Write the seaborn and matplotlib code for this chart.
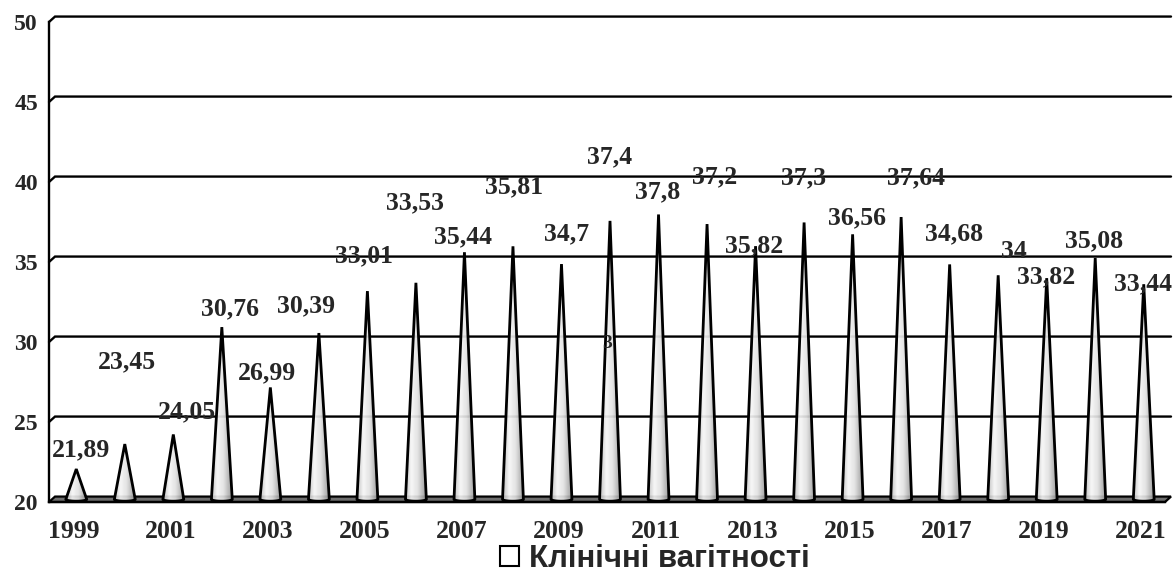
import numpy as np
import matplotlib
matplotlib.use("Agg")
import matplotlib.pyplot as plt
import seaborn as sns
from matplotlib.patches import Polygon, Patch
from matplotlib.colors import LinearSegmentedColormap

# data
years = ["1999", "2000", "2001", "2002", "2003", "2004", "2005", "2006",
         "2007", "2008", "2009", "2010", "2011", "2012", "2013", "2014",
         "2015", "2016", "2017", "2018", "2019", "2020", "2021"]
values = [21.89, 23.45, 24.05, 30.76, 26.99, 30.39, 33.01, 33.53, 35.44,
          35.81, 34.7, 37.4, 37.8, 37.2, 35.82, 37.3, 36.56, 37.64, 34.68,
          34, 33.82, 35.08, 33.44]
tick_years = years[::2]
y_ticks = [20, 25, 30, 35, 40, 45, 50]
legend_label = "Клінічні вагітності"
# stray label fragment that sits on the 2010 cone in the original
stray_text, stray_year, stray_value = "3", "2010", 29.9

# label offsets in pixels from each cone tip (as placed in the original)
label_offsets = [(8, 22), (5.5, 85), (17, 25), (11.5, 21), (0, 17), (-9.5, 30),
                 (0, 38), (2.5, 82.5), (2, 18), (4.5, 62), (8, 33), (2.5, 66.6),
                 (2, 25), (10.5, 50), (2, 3), (2.5, 47), (7, 19), (17.5, 42),
                 (7, 33), (18.5, 26), (2, 4), (1.5, 20), (2, 3)]

sns.set_style("white")
plt.rcParams["font.family"] = ["Liberation Serif", "DejaVu Serif"]
plt.rcParams["font.weight"] = "bold"

fig = plt.figure(figsize=(11.74, 5.72), dpi=100)
ax = fig.add_axes([49 / 1174, 70 / 572, 1116 / 1174, 480 / 572])

sns.barplot(x=years, y=values, width=0.43, color="white", ax=ax)

n = len(years)
xlim = (-0.5, n - 0.5)
ax.set_xlim(*xlim)
ax.set_ylim(y_ticks[0], y_ticks[-1])

# 3-D depth of the chart walls, in data units
depth_x, depth_y = 0.124, 0.34

cone_cmap = LinearSegmentedColormap.from_list(
    "cone", [(0, "#bdbdbd"), (0.3, "#f6f6f6"), (0.6, "#e2e2e2"), (1, "#979797")])
grad = np.linspace(0, 1, 64).reshape(1, -1)

bars = list(ax.patches)
for p in bars:
    p.set_visible(False)
    x0 = p.get_x() + depth_x / 2
    w = p.get_width()
    cx = x0 + w / 2
    top = p.get_height() + depth_y / 2
    base = y_ticks[0] + depth_y / 2
    t = np.linspace(0, np.pi, 24)
    arc = np.column_stack([cx + w / 2 * np.cos(t), base - 0.12 * np.sin(t)])
    pts = np.vstack([[cx, top], arc])
    cone = Polygon(pts, closed=True, facecolor="none", edgecolor="black",
                   lw=2.0, zorder=4, joinstyle="miter", clip_on=False)
    ax.add_patch(cone)
    im = ax.imshow(grad, cmap=cone_cmap, extent=(x0, x0 + w, y_ticks[0], top),
                   aspect="auto", zorder=3, interpolation="bilinear", alpha=0.92)
    im.set_clip_path(cone)

# back wall gridlines with the little 3-D kink at the left
for y in y_ticks[1:]:
    ax.plot([xlim[0], xlim[0] + depth_x, xlim[1] + depth_x],
            [y, y + depth_y, y + depth_y], color="black", lw=1.7, zorder=1,
            clip_on=False, solid_joinstyle="miter")

# floor
floor = Polygon([(xlim[0], y_ticks[0]), (xlim[1], y_ticks[0]),
                 (xlim[1] + depth_x, y_ticks[0] + depth_y),
                 (xlim[0] + depth_x, y_ticks[0] + depth_y)],
                closed=True, facecolor="#6e6e6e", edgecolor="black", lw=1.6,
                zorder=2, clip_on=False)
ax.add_patch(floor)

ax.set_xlim(*xlim)
ax.set_ylim(y_ticks[0], y_ticks[-1])

# value labels
for i, (p, v) in enumerate(zip(bars, values)):
    cx = p.get_x() + p.get_width() / 2
    ax.annotate(f"{v:g}".replace(".", ","), xy=(cx, v),
                xytext=label_offsets[i], textcoords="offset pixels",
                ha="center", va="center", fontsize=18.5, fontweight="bold",
                zorder=6, annotation_clip=False)

ax.text(years.index(stray_year), stray_value, stray_text, ha="center",
        va="center", fontsize=14, fontweight="bold", zorder=6)

# axes, ticks
for side in ["top", "right"]:
    ax.spines[side].set_visible(False)
for side in ["left", "bottom"]:
    ax.spines[side].set_linewidth(1.7)
    ax.spines[side].set_color("black")
    ax.spines[side].set_zorder(5)

ax.set_yticks(y_ticks)
ax.set_yticklabels([str(y) for y in y_ticks], fontsize=17, fontweight="bold")
ax.tick_params(axis="y", direction="out", length=6, width=1.7, pad=2, color="black")

ax.set_xticks(np.arange(xlim[0], xlim[1] + 0.5, 1))
ax.set_xticklabels([])
ax.set_xticks(range(0, n, 2), labels=tick_years, minor=True)
ax.tick_params(axis="x", which="major", direction="out", length=4.5, width=1.7,
               color="black")
ax.tick_params(axis="x", which="minor", length=0, pad=13, labelsize=18.5)
for lab in ax.get_xticklabels(minor=True):
    lab.set_fontweight("bold")

ax.set_xlabel("")
ax.set_ylabel("")
ax.grid(False)

leg = ax.legend(handles=[Patch(facecolor="white", edgecolor="black", lw=1.5)],
                labels=[legend_label], loc="center",
                bbox_to_anchor=(655 / 1174, 13 / 572), bbox_transform=fig.transFigure,
                frameon=False, handlelength=0.6, handleheight=0.6,
                handletextpad=0.35, borderpad=0, borderaxespad=0,
                prop={"family": ["Liberation Sans", "DejaVu Sans"],
                      "weight": "bold", "size": 22.5})

fig.savefig("out.png", dpi=100)
